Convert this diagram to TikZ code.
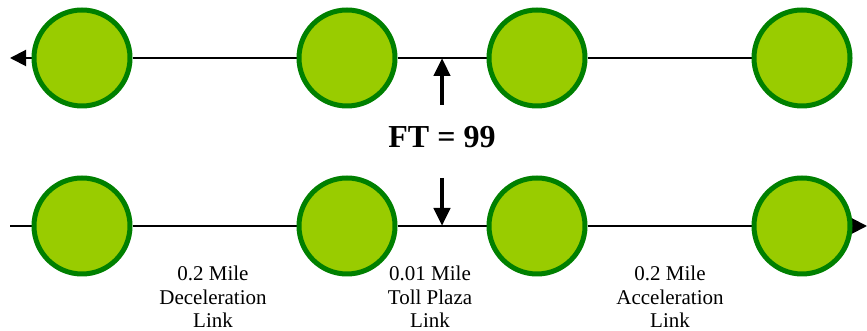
\documentclass[tikz,border=0pt]{standalone}
\usepackage{fontspec}
\setmainfont{Liberation Serif}
\usepackage{tikz}
\usetikzlibrary{positioning, arrows.meta, calc, backgrounds}
\definecolor{junctionfill}{HTML}{99CC00}
\definecolor{junctionedge}{HTML}{008000}

\begin{document}
\begin{tikzpicture}[x=1pt, y=1pt,
    junction/.style={circle, draw=junctionedge, fill=junctionfill, line width=5pt, minimum size=96pt, inner sep=0pt},
    road/.style={line width=2pt},
    roadtip/.style={road, -{Triangle[length=16pt, width=16pt]}},
    flow/.style={line width=4.5pt, -{Triangle[length=18pt, width=16pt]}},
    linklabel/.style={align=center, anchor=north, inner sep=0pt, font=\fontsize{21}{23.5}\selectfont}]
    \useasboundingbox (0,0) rectangle (867,331);
    % junctions of both directions
    \foreach \i/\x in {1/82, 2/347, 3/537, 4/802} {
      \node[junction] (t\i) at (\x,273) {};
      \node[junction] (b\i) at (\x,105) {};
    }
    \coordinate (tl) at (10,273);
    \coordinate (bl) at (10,105);
    \coordinate (br) at (867,105);
    % roads behind the junctions
    \begin{scope}[on background layer]
      \draw[roadtip] (t1) -- (tl);
      \draw[road] (t1) -- (t2) -- (t3) -- (t4);
      \draw[road] (bl) -- (b1) -- (b2) -- (b3) -- (b4);
      \draw[roadtip] (b4) -- (br);
    \end{scope}
    % facility type
    \node[font=\fontsize{32}{36}\selectfont\bfseries, inner sep=0pt] (ft) at (442,193.5) {FT = 99};
    \coordinate (ua) at (442,226);
    \coordinate (ub) at (442,273);
    \coordinate (da) at (442,153);
    \coordinate (db) at (442,105);
    \draw[flow] (ua) -- (ub);
    \draw[flow] (da) -- (db);
    % link lengths
    \node[linklabel] (dec) at (213,65) {0.2 Mile\\Deceleration\\Link};
    \node[linklabel] (toll) at (430,65) {0.01 Mile\\Toll Plaza\\Link};
    \node[linklabel] (acc) at (670,65) {0.2 Mile\\Acceleration\\Link};
\end{tikzpicture}
\end{document}
